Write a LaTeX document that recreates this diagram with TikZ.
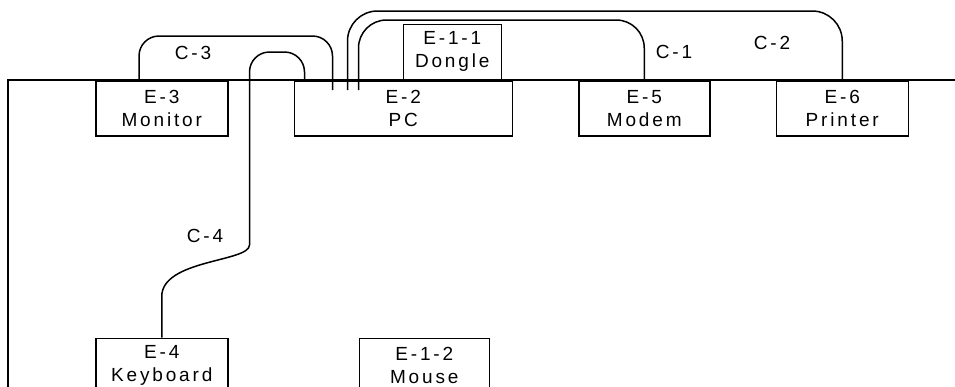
\documentclass[tikz,border=0pt]{standalone}
\usepackage{fontspec}
\setmainfont{Liberation Sans}
\newfontfamily\spaced{Liberation Sans}[LetterSpace=15]
\usetikzlibrary{calc,positioning}

\begin{document}
\begin{tikzpicture}[
  x=1pt,y=-1pt,
  font=\spaced\fontsize{19}{23}\selectfont,
  unit/.style={draw,line width=1.5pt,inner sep=0pt,minimum height=55pt,
               minimum width=132pt,align=center},
  cable/.style={line width=1.5pt,rounded corners=20pt},
  tag/.style={inner sep=0pt}
]
\clip (0,0) rectangle (955,386);
\draw[line width=1.5pt] (8,400) -- (8,80) -- (960,80);

\node[unit,anchor=north west] (monitor) at (95,80) {E-3\\Monitor};
\node[unit,right=65pt of monitor,minimum width=218pt] (pc) {E-2\\PC};
\node[unit,right=65pt of pc,minimum width=131pt] (modem) {E-5\\Modem};
\node[unit,right=65pt of modem] (printer) {E-6\\Printer};
\node[unit,anchor=south west,minimum width=98pt] (dongle)
  at ($(pc.north west)+(109,0)$) {E-1-1\\Dongle};
\node[unit,below=201pt of monitor] (keyboard) {E-4\\Keyboard};
\node[unit,right=130pt of keyboard,minimum width=130pt] (mouse) {E-1-2\\Mouse};

\node[tag] (c3) at (193,53) {C-3};
\node[tag] (c4) at (205,236) {C-4};
\node[tag] (c1) at (674,52) {C-1};
\node[tag] (c2) at (772,43) {C-2};

\draw[cable] ($(monitor.north west)+(44,0)$) -- ++(0,-44)
  -- ($(pc.north west)+(39,-44)$) -- ($(pc.north west)+(39,10)$);
\draw[cable] ($(pc.north west)+(11,0)$) -- ++(0,-28) -- ++(-55,0)
  -- ++(0,173) [sharp corners] .. controls +(0,37) and +(0,-37) ..
  ($(keyboard.north)+(0,-41)$) -- (keyboard.north);
\draw[cable,rounded corners=28pt] ($(pc.north west)+(65,10)$)
  |- ($(modem.north)+(0,-60)$) -- (modem.north);
\draw[cable,rounded corners=30pt] ($(pc.north west)+(54,10)$)
  |- ($(printer.north)+(0,-69)$) -- (printer.north);
\end{tikzpicture}
\end{document}
